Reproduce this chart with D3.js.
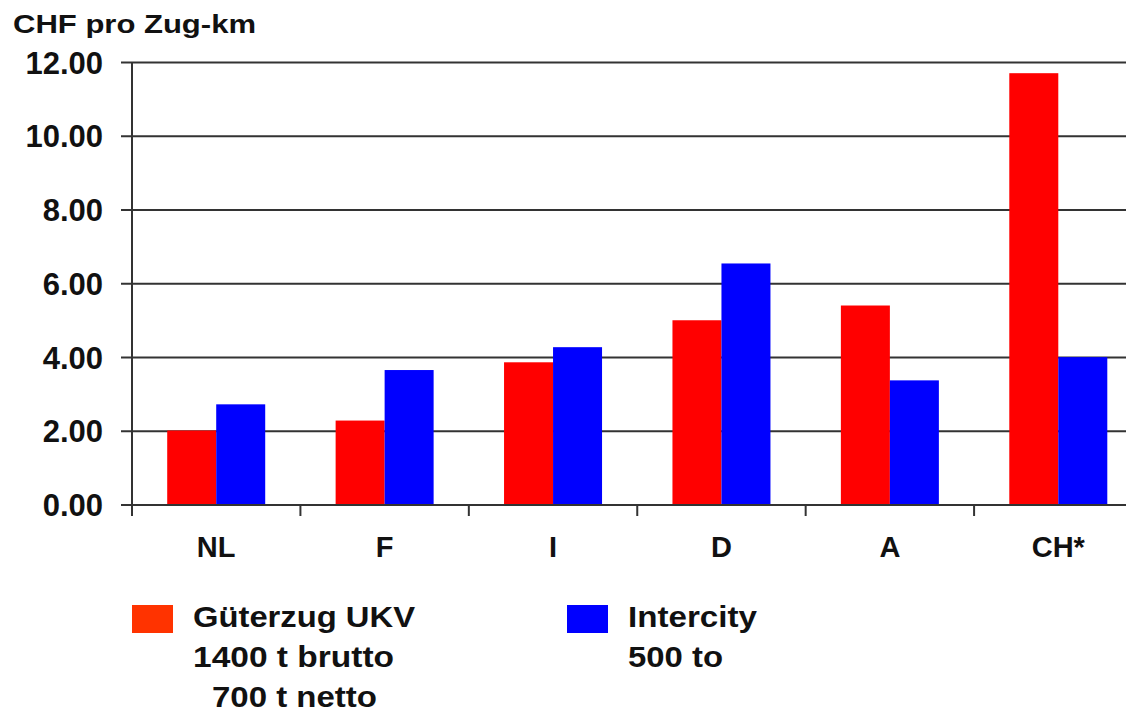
<!DOCTYPE html>
<html>
<head>
<meta charset="utf-8">
<script src="https://cdn.jsdelivr.net/npm/d3@7"></script>
<style>
  body { margin: 0; background: #fff; }
  svg { display: block; }
</style>
</head>
<body>
<div id="chart"></div>
<script>
var width = 1126;
var height = 712;

// data
var categories = ['NL', 'F', 'I', 'D', 'A', 'CH*'];
var gueterzug = [2.02, 2.29, 3.87, 5.01, 5.41, 11.71];
var intercity = [2.73, 3.66, 4.28, 6.55, 3.38, 4.01];
var yTicks = [0, 2, 4, 6, 8, 10, 12];
var seriesNames = ['gueterzug', 'intercity'];
var seriesColors = ['#ff0000', '#0000ff'];

var font = 'Arial, "Liberation Sans", sans-serif';

var svg = d3.select('#chart').append('svg')
    .attr('width', width)
    .attr('height', height);

var x = d3.scaleBand()
    .domain(categories)
    .range([132, 1142.5]);

var y = d3.scaleLinear()
    .domain([0, 12])
    .range([505, 62.5]);

var groupWidth = 98;
var inner = d3.scaleBand()
    .domain(seriesNames)
    .range([0, groupWidth]);

// the original lettering is a bit wider than Arial, so stretch it to fit
function label(txt, px, py, size, len) {
  var t = svg.append('text')
      .attr('x', px)
      .attr('y', py)
      .style('font-family', font)
      .style('font-weight', 'bold')
      .style('font-size', size + 'px')
      .style('fill', '#111')
      .text(txt);
  if (len) t.attr('textLength', len).attr('lengthAdjust', 'spacingAndGlyphs');
  return t;
}

// title
label('CHF pro Zug-km', 13, 33, 26, 243);

// gridlines + y labels
svg.append('g').selectAll('line')
    .data(yTicks)
    .enter().append('line')
    .attr('x1', 121)
    .attr('x2', width)
    .attr('y1', function (d) { return y(d); })
    .attr('y2', function (d) { return y(d); })
    .attr('stroke', '#333')
    .attr('stroke-width', 2);

svg.append('g').selectAll('text')
    .data(yTicks)
    .enter().append('text')
    .attr('x', 103)
    .attr('y', function (d) { return y(d) + 11; })
    .attr('text-anchor', 'end')
    .style('font-family', font)
    .style('font-weight', 'bold')
    .style('font-size', '31px')
    .style('fill', '#111')
    .text(function (d) { return d3.format('.2f')(d); });

// bars
var rows = categories.map(function (c, i) {
  return { cat: c, vals: [gueterzug[i], intercity[i]] };
});

var groups = svg.append('g').selectAll('g')
    .data(rows)
    .enter().append('g')
    .attr('transform', function (d) {
      return 'translate(' + (x(d.cat) + (x.bandwidth() - groupWidth) / 2) + ',0)';
    });

groups.selectAll('rect')
    .data(function (d) { return d.vals.map(function (v, j) { return { v: v, j: j }; }); })
    .enter().append('rect')
    .attr('x', function (d) { return inner(seriesNames[d.j]); })
    .attr('y', function (d) { return y(d.v); })
    .attr('width', inner.bandwidth())
    .attr('height', function (d) { return y(0) - y(d.v); })
    .attr('fill', function (d) { return seriesColors[d.j]; });

// y axis line
svg.append('line')
    .attr('x1', 132).attr('x2', 132)
    .attr('y1', y(12)).attr('y2', 516)
    .attr('stroke', '#333')
    .attr('stroke-width', 2);

// x axis line and category ticks
svg.append('line')
    .attr('x1', 121).attr('x2', width)
    .attr('y1', y(0)).attr('y2', y(0))
    .attr('stroke', '#333')
    .attr('stroke-width', 2);

svg.append('g').selectAll('line')
    .data(categories.slice(1))
    .enter().append('line')
    .attr('x1', function (d) { return x(d); })
    .attr('x2', function (d) { return x(d); })
    .attr('y1', y(0))
    .attr('y2', 516)
    .attr('stroke', '#333')
    .attr('stroke-width', 2);

svg.append('g').selectAll('text')
    .data(categories)
    .enter().append('text')
    .attr('x', function (d) { return x(d) + x.bandwidth() / 2; })
    .attr('y', 557)
    .attr('text-anchor', 'middle')
    .style('font-family', font)
    .style('font-weight', 'bold')
    .style('font-size', '29px')
    .style('fill', '#111')
    .text(function (d) { return d; });

// legend
var legend = [
  { color: '#ff3300', x: 132, lines: [['Güterzug UKV', 193, 222], ['1400 t brutto', 193, 201], ['700 t netto', 212, 165]] },
  { color: '#0000ff', x: 567, lines: [['Intercity', 628, 129], ['500 to', 628, 95]] }
];

legend.forEach(function (item) {
  svg.append('rect')
      .attr('x', item.x)
      .attr('y', 605)
      .attr('width', 41)
      .attr('height', 28)
      .attr('fill', item.color);
  item.lines.forEach(function (l, k) {
    label(l[0], l[1], 627 + k * 40, 30, l[2]);
  });
});
</script>
</body>
</html>
